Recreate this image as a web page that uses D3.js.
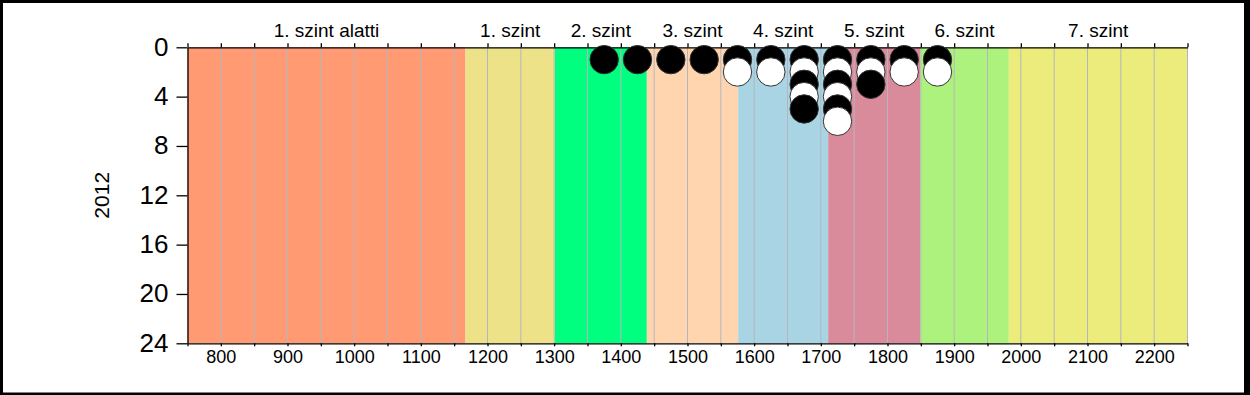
<!DOCTYPE html>
<html>
<head>
<meta charset="utf-8">
<script src="https://cdn.jsdelivr.net/npm/d3@7"></script>
<style>
  body { margin: 0; background: #fff; }
  text { font-family: "Liberation Sans", Arial, sans-serif; fill: #000; }
</style>
</head>
<body>
<div class="container"></div>
<script>
const w = 1250
const h = 395

// score bands
const bandNames = ["1. szint alatti","1. szint","2. szint","3. szint","4. szint","5. szint","6. szint","7. szint"]
const bandStarts = [750, 1167, 1301, 1439, 1576, 1711, 1849, 1982]
const bandEnds = [1167, 1301, 1439, 1576, 1711, 1849, 1982, 2250]
const bandColors = ["#FF9A72","#EEE288","#00FF7F","#FFD5B0","#A8D4E4","#D98B9B","#ADF27C","#ECEC7C"]

// number of schools per 50-point bin (bin centre)
const binCenters = [1375, 1425, 1475, 1525, 1575, 1625, 1675, 1725, 1775, 1825, 1875]
const binCounts = [1, 1, 1, 1, 2, 2, 5, 6, 3, 2, 2]

const yTicks = [0, 4, 8, 12, 16, 20, 24]
const xLabelTicks = [800, 900, 1000, 1100, 1200, 1300, 1400, 1500, 1600, 1700, 1800, 1900, 2000, 2100, 2200]
const xMinorTicks = d3.range(750, 2251, 50)
const yTitle = "2012"

const svg = d3.select(".container")
              .append("svg")
              .attr("width", w)
              .attr("height", h)

// frame
svg.append("rect").attr("width", w).attr("height", h).attr("fill", "#000")
svg.append("rect").attr("x", 3).attr("y", 3).attr("width", 1241).attr("height", 389.5).attr("fill", "#fff")

const xScale = d3.scaleLinear().domain([750, 2250]).range([187.5, 1187.5])
const yScale = d3.scaleLinear().domain([0, 24]).range([47.3, 343.3])

const bands = bandNames.map((n, i) => ({name: n, x0: bandStarts[i], x1: bandEnds[i], color: bandColors[i]}))

svg.append("g").selectAll("rect")
   .data(bands)
   .enter()
   .append("rect")
     .attr("x", d => xScale(d.x0))
     .attr("y", yScale(0))
     .attr("width", d => xScale(d.x1) - xScale(d.x0))
     .attr("height", yScale(24) - yScale(0))
     .attr("fill", d => d.color)

// vertical grid
svg.append("g").selectAll("line")
   .data(xMinorTicks.filter(t => t > 750))
   .enter()
   .append("line")
     .attr("x1", d => xScale(d)).attr("x2", d => xScale(d))
     .attr("y1", yScale(0)).attr("y2", yScale(24))
     .attr("stroke", "#B4B6BE")
     .attr("stroke-width", 1)

// band labels
svg.append("g").selectAll("text")
   .data(bands)
   .enter()
   .append("text")
     .attr("x", d => (xScale(d.x0) + xScale(d.x1)) / 2)
     .attr("y", 36.5)
     .attr("text-anchor", "middle")
     .style("font-size", "19px")
     .text(d => d.name)

// bottom axis
const xAxis = d3.axisBottom(xScale)
                .tickValues(xMinorTicks)
                .tickFormat(d => xLabelTicks.includes(d) ? d : "")
                .tickSize(3)
                .tickPadding(4)
                .tickSizeOuter(0)
svg.append("g")
   .attr("transform", `translate(0, ${yScale(24)})`)
   .call(xAxis)
   .call(g => g.selectAll("text").style("font-size", "18px").attr("font-family", null))

// top axis
const xAxisTop = d3.axisTop(xScale)
                   .tickValues(xMinorTicks)
                   .tickFormat("")
                   .tickSize(4)
                   .tickSizeOuter(0)
svg.append("g")
   .attr("transform", `translate(0, ${yScale(0)})`)
   .call(xAxisTop)

// left axis
const yAxis = d3.axisLeft(yScale)
                .tickValues(yTicks)
                .tickSize(11)
                .tickPadding(8)
                .tickSizeOuter(0)
svg.append("g")
   .attr("transform", `translate(${xScale(750)}, 0)`)
   .call(yAxis)
   .call(g => g.selectAll("text").style("font-size", "26px").attr("dy", "0.3em"))

svg.selectAll(".domain, .tick line").attr("stroke", "#000").attr("stroke-width", 1.3)

svg.append("text")
   .attr("transform", `translate(109, ${(yScale(0) + yScale(24)) / 2}) rotate(-90)`)
   .attr("text-anchor", "middle")
   .style("font-size", "21px")
   .text(yTitle)

// stacked dots, alternating black / white
const dots = []
binCenters.forEach((c, i) => {
  for (let k = 1; k <= binCounts[i]; k++) dots.push({x: c, y: k})
})
svg.append("g").selectAll("circle")
   .data(dots)
   .enter()
   .append("circle")
     .attr("cx", d => xScale(d.x))
     .attr("cy", d => yScale(d.y))
     .attr("r", 14.2)
     .attr("fill", d => d.y % 2 == 1 ? "#000" : "#fff")
     .attr("stroke", "#333")
     .attr("stroke-width", 1)
</script>
</body>
</html>
